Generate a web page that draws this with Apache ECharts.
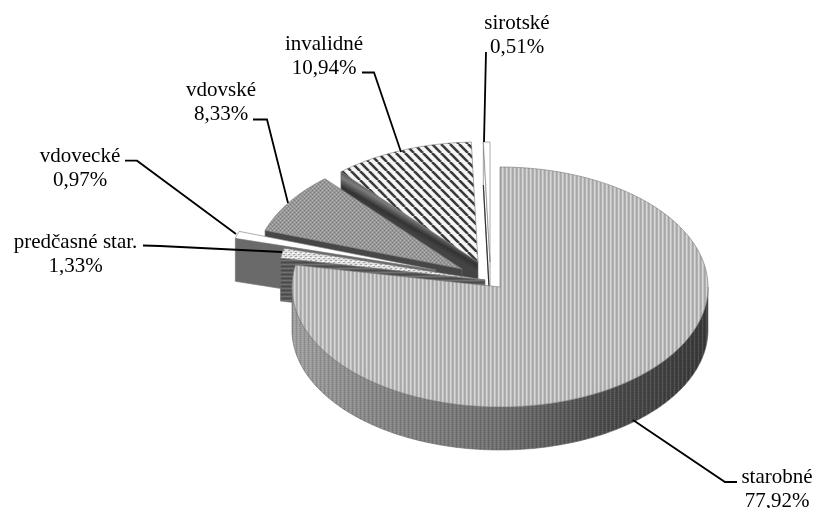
<!DOCTYPE html>
<html><head><meta charset="utf-8">
<style>html,body{margin:0;padding:0;background:#fff}#c{width:815px;height:508px}</style>
<script src="https://cdn.jsdelivr.net/npm/echarts@6/dist/echarts.min.js"></script>
</head><body><div id="c"></div>
<script>
const categories = ['starobné','predčasné star.','vdovecké','vdovské','invalidné','sirotské'];
const shares = [77.92,1.33,0.97,8.33,10.94,0.51];

// layout (not data)
const RX=208, RY=120, DEPTH=43;
const apexes=[[500,287],[485,280],[436,270],[462,269],[478,262],[490,262]];
const labelAt=[[777,465],[75.5,230],[80,144],[221,78],[324,32],[517,11]];
const leaders=[
 [[633,420],[725,482],[737,482]],
 [[143,245.5],[160,246],[282,252]],
 [[125,160.7],[137,160.7],[236,234]],
 [[253,119.5],[267,119.5],[288,203]],
 [[362,72.5],[374,72.5],[401,152]],
 [[486,52],[484,142]]
];

function tile(w,h,draw){const c=document.createElement('canvas');c.width=w;c.height=h;draw(c.getContext('2d'));return {image:c,repeat:'repeat'};}
const mainFill=tile(4,8,g=>{['#a6a6a6','#b2b2b2','#d6d6d6','#c4c4c4'].forEach((k,i)=>{g.fillStyle=k;g.fillRect(i,0,1,8);});});
const mainWallOver=tile(4,4,g=>{g.fillStyle='rgba(0,0,0,.14)';g.fillRect(0,0,1,4);g.fillStyle='rgba(255,255,255,.10)';g.fillRect(2,0,1,4);g.fillStyle='rgba(0,0,0,.08)';for(let i=0;i<4;i+=2)g.fillRect(1,i,3,1);});
const diag=tile(9,9,g=>{g.fillStyle='#f6f6f6';g.fillRect(0,0,9,9);g.strokeStyle='#3a3a3a';g.lineWidth=2.6;
  for(let i=-9;i<=18;i+=9){g.beginPath();g.moveTo(i,0);g.lineTo(i+9,9);g.stroke();}});
const halftone=tile(4,4,g=>{g.fillStyle='#969696';g.fillRect(0,0,4,4);g.fillStyle='#b8b8b8';g.fillRect(0,0,1,1);g.fillRect(2,2,1,1);g.fillStyle='#808080';g.fillRect(2,0,1,1);g.fillRect(0,2,1,1);});
const stipple=tile(5,4,g=>{g.fillStyle='#e2e2e2';g.fillRect(0,0,5,4);g.fillStyle='#a4a4a4';g.fillRect(0,0,2,1);g.fillRect(3,2,2,1);g.fillStyle='#fff';g.fillRect(2,1,2,1);});
const bands=tile(4,4,g=>{g.fillStyle='#5a5a5a';g.fillRect(0,0,4,4);g.fillStyle='#707070';g.fillRect(0,0,4,1);g.fillStyle='#4a4a4a';g.fillRect(0,2,4,1);});
const topFills=[mainFill,stipple,'#ffffff',halftone,diag,'#ffffff'];
const wallFills=[null,bands,'#6a6a6a','#474747',
  {type:'linear',global:true,x:415,y:210,x2:404,y2:229,colorStops:[{offset:0,color:'#3a3a3a'},{offset:.4,color:'#7d7d7d'},{offset:.75,color:'#333'},{offset:1,color:'#444'}]},'#ffffff'];
const mainWallGrad={type:'linear',x:0,y:0,x2:1,y2:0,colorStops:[
  {offset:0,color:'#a6a6a6'},{offset:.2,color:'#8d8d8d'},{offset:.5,color:'#747474'},{offset:.75,color:'#4f4f4f'},{offset:1,color:'#3c3c3c'}]};

const cum=[];shares.reduce((s,v,i)=>{cum[i]=s;return s+v;},0);
const total=shares.reduce((a,b)=>a+b,0);
const ang=v=>v/total*2*Math.PI;
const pt=(a,ox,oy)=>[ox+RX*Math.sin(a),oy-RY*Math.cos(a)];
function arc(a0,a1,ox,oy){const n=Math.max(2,Math.ceil(Math.abs(a1-a0)*60)),r=[];for(let i=0;i<=n;i++)r.push(pt(a0+(a1-a0)*i/n,ox,oy));return r;}

function renderItem(params,api){
  const i=params.dataIndex, v=api.value(1), z=shares.length-i+(i===0?shares.length:0);
  const a0=ang(cum[i]),a1=a0+ang(v),[ox,oy]=apexes[i],kids=[];
  const edge={stroke:'#6a6a6a',lineWidth:.6};
  const poly=(pts,fill,extra)=>({type:'polygon',z2:z,shape:{points:pts},style:Object.assign({fill},edge,extra||{}),silent:true});
  if(i===0){
    const s=Math.PI/2,e=Math.PI*1.5;
    const up=arc(s,e,ox,oy),low=arc(e,s,ox,oy+DEPTH);
    kids.push(poly(up.concat(low),mainWallGrad));
    kids.push(poly(up.concat(low),mainWallOver,{stroke:null}));
  }else{
    const o=pt(a0,ox,oy);
    kids.push(poly([o,[ox,oy],[ox,oy+DEPTH],[o[0],o[1]+DEPTH]],wallFills[i]));
    if(i===5)kids.push({type:'polyline',z2:z,shape:{points:[[o[0],o[1]+DEPTH],[ox,oy+DEPTH]]},style:{fill:null,stroke:'#333',lineWidth:1.2},silent:true});
  }
  kids.push(poly([[ox,oy]].concat(arc(a0,a1,ox,oy)),topFills[i],{stroke:'#777'}));
  const pct=v.toFixed(2).replace('.',',')+'%';
  kids.push({type:'polyline',z2:50,shape:{points:leaders[i]},style:{fill:null,stroke:'#000',lineWidth:1.8},silent:true});
  kids.push({type:'text',z2:60,style:{x:labelAt[i][0],y:labelAt[i][1],text:categories[i]+'\n'+pct,
    font:'21px "Liberation Serif"',lineHeight:24,align:'center',verticalAlign:'top',textAlign:'center',fill:'#000'},silent:true});
  return {type:'group',children:kids};
}
const chart=echarts.init(document.getElementById('c'),null,{renderer:'canvas'});
chart.setOption({animation:false,backgroundColor:'#fff',
  series:[{type:'custom',coordinateSystem:'none',renderItem,clip:false,
    data:shares.map((v,i)=>[i,v])}]});
</script></body></html>
